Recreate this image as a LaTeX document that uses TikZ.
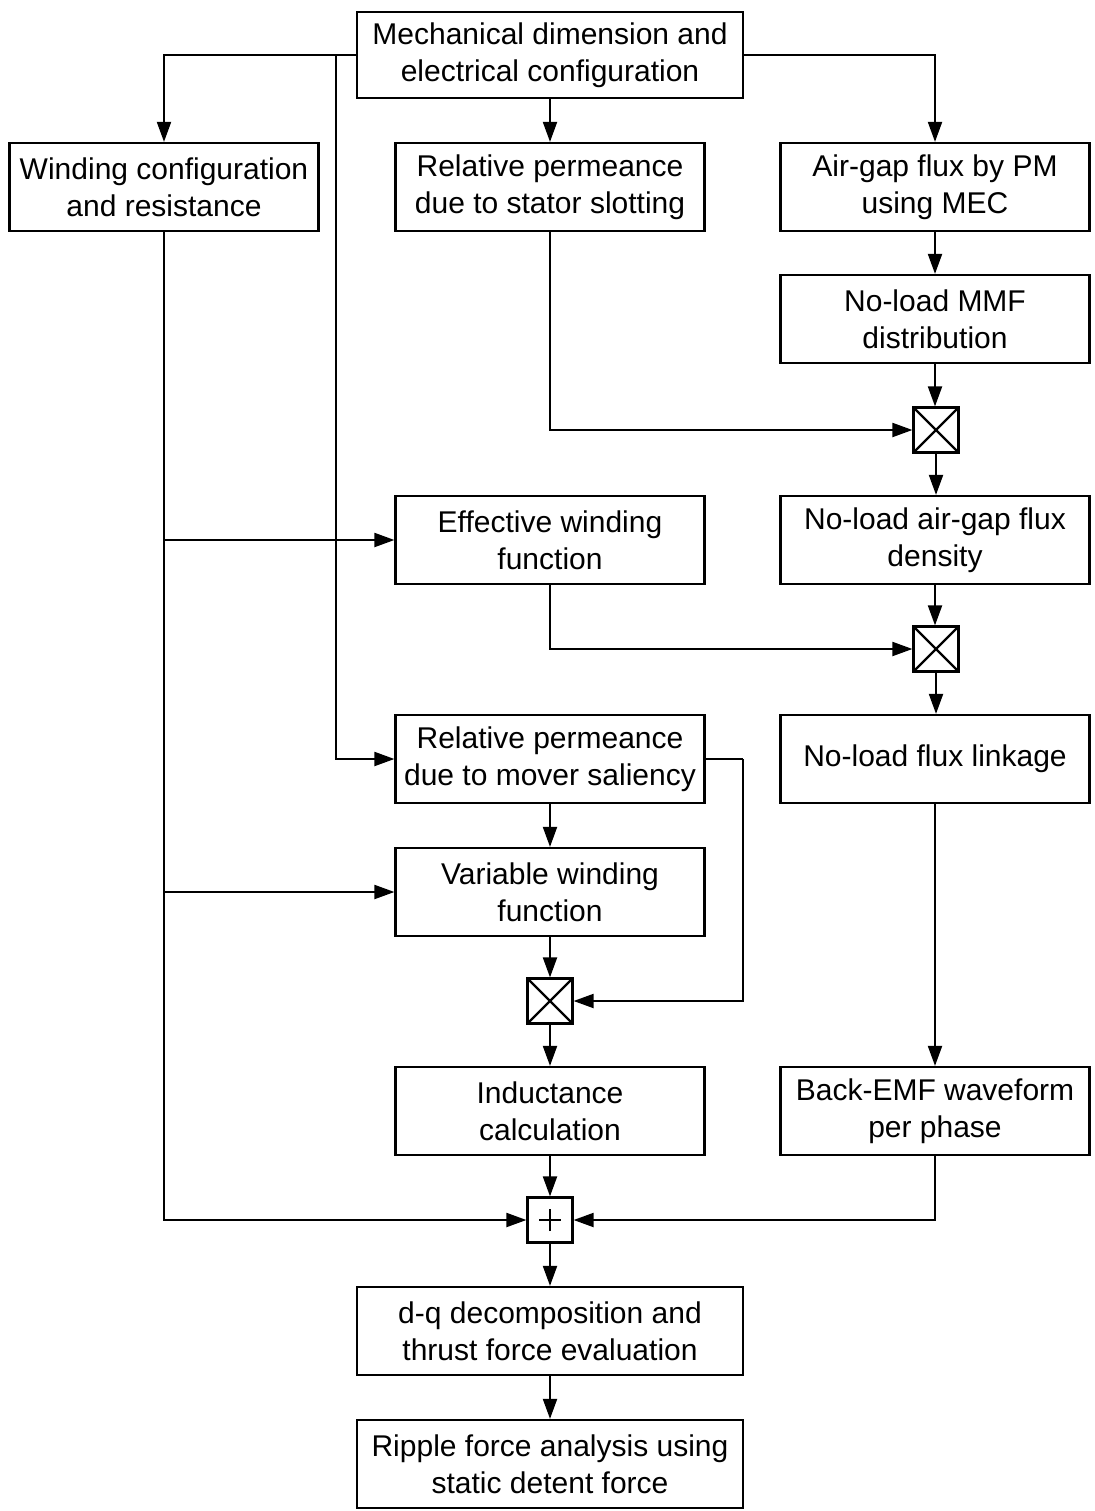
\documentclass[tikz,border=0pt]{standalone}
\usepackage{fontspec}
\setmainfont{Liberation Sans}
\usetikzlibrary{arrows.meta}
\begin{document}
\begin{tikzpicture}[x=1pt,y=-1pt,
  every node/.style={font=\fontsize{30}{37}\selectfont},
  blk/.style={draw,line width=2.2pt,minimum width=309pt,minimum height=88pt,align=center,inner sep=0pt},
  wblk/.style={blk,minimum width=386pt},
  opx/.style={draw,line width=2.2pt,minimum size=45pt,inner sep=0pt,path picture={\draw[line width=2.2pt] (path picture bounding box.south west)--(path picture bounding box.north east) (path picture bounding box.north west)--(path picture bounding box.south east);}},
  ops/.style={draw,line width=2.2pt,minimum size=45pt,inner sep=0pt},
  con/.style={line width=2pt,-{Triangle[length=20pt,width=14pt]}},
  ln/.style={line width=2pt}]
\useasboundingbox (0,0) rectangle (1094,1511);
\node[wblk,minimum height=86pt] (top) at (550,55) {Mechanical dimension and\\electrical configuration};
\node[blk] (wind) at (164,187) {Winding configuration\\and resistance};
\node[blk] (stat) at (550,187) {Relative permeance\\due to stator slotting};
\node[blk] (agf) at (935,187) {Air-gap flux by PM\\using MEC};
\node[blk] (mmf) at (935,319) {No-load MMF\\distribution};
\node[opx] (m1) at (936,430) {};
\node[blk] (nlb) at (935,540) {No-load air-gap flux\\density};
\node[blk] (eff) at (550,540) {Effective winding\\function};
\node[opx] (m2) at (936,649) {};
\node[blk] (nll) at (935,759) {No-load flux linkage};
\node[blk] (mov) at (550,759) {Relative permeance\\due to mover saliency};
\node[blk] (var) at (550,892) {Variable winding\\function};
\node[opx] (m3) at (550,1001) {};
\node[blk] (ind) at (550,1111) {Inductance\\calculation};
\node[blk] (bemf) at (935,1111) {Back-EMF waveform\\per phase};
\node[ops] (sum) at (550,1220) {};
\draw[line width=2pt] ([xshift=-11pt]sum.center)--([xshift=11pt]sum.center) ([yshift=-11pt]sum.center)--([yshift=11pt]sum.center);
\node[wblk] (dq) at (550,1331) {d-q decomposition and\\thrust force evaluation};
\node[wblk] (rip) at (550,1464) {Ripple force analysis using\\static detent force};
% connectors
\draw[con] (top.west) -| (wind.north);
\coordinate (tv) at (336,55);
\draw[con] (tv) |- (mov.west);
\draw[con] (top.south) -- (stat.north);
\draw[con] (top.east) -| (agf.north);
\draw[con] (agf) -- (mmf);
\draw[con] (mmf.south) -- (mmf.south |- m1.north);
\draw[con] (stat.south) |- (m1.west);
\draw[con] (m1.south) -- (m1.south |- nlb.north);
\draw[con] (nlb.south) -- (nlb.south |- m2.north);
\draw[con] (eff.south) |- (m2.west);
\draw[con] (m2.south) -- (m2.south |- nll.north);
\draw[con] (nll) -- (bemf);
\draw[con] (wind.south) |- (sum.west);
\coordinate (b1) at (164,540);
\coordinate (b2) at (164,892);
\draw[con] (b1) -- (eff.west);
\draw[con] (b2) -- (var.west);
\draw[con] (mov) -- (var);
\coordinate (mr) at (743,759);
\draw[ln] (mov.east) -- (mr);
\draw[con] (mr) |- (m3.east);
\draw[con] (var.south) -- (var.south |- m3.north);
\draw[con] (m3.south) -- (m3.south |- ind.north);
\draw[con] (ind.south) -- (ind.south |- sum.north);
\draw[con] (bemf.south) |- (sum.east);
\draw[con] (sum.south) -- (sum.south |- dq.north);
\draw[con] (dq) -- (rip);
\end{tikzpicture}
\end{document}
